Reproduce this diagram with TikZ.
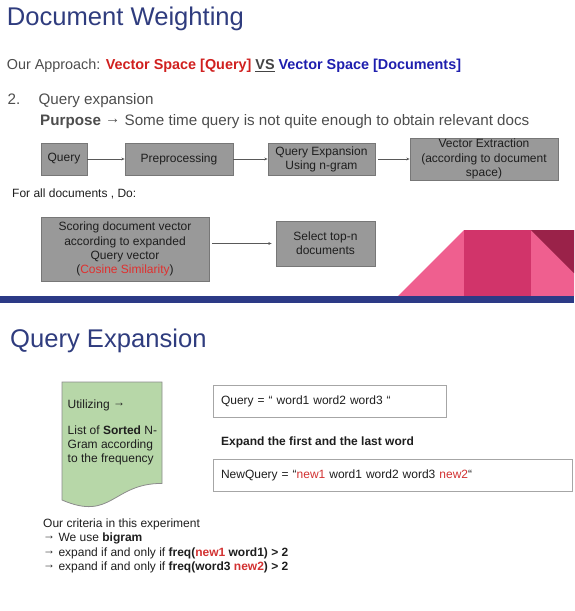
\documentclass[tikz,border=0pt]{standalone}
\usepackage{fontspec}
\setmainfont{Liberation Sans}
\usetikzlibrary{arrows.meta}

\definecolor{titleblue}{HTML}{2F3C7E}
\definecolor{bodygray}{HTML}{4D4D4D}
\definecolor{apred}{HTML}{D0201F}
\definecolor{apblue}{HTML}{1E1EAE}
\definecolor{vsgray}{HTML}{444444}
\definecolor{boxfill}{HTML}{999999}
\definecolor{boxdraw}{HTML}{777777}
\definecolor{arrowgray}{HTML}{595959}
\definecolor{cosred}{HTML}{E0302F}
\definecolor{qred}{HTML}{D23232}
\definecolor{docgreen}{HTML}{B7D7A8}
\definecolor{docdraw}{HTML}{8C8C8C}
\definecolor{pinklight}{HTML}{EF5F8F}
\definecolor{pinkdark}{HTML}{D1346A}
\definecolor{maroon}{HTML}{9A2249}
\definecolor{barblue}{HTML}{2C3A86}
\definecolor{frame}{HTML}{A6A6A6}
\definecolor{inktext}{HTML}{1E1E1E}

% right arrow sitting at mid x-height
\newcommand{\rarr}{\raisebox{0.13em}{→}}

\tikzset{
  bigtitle/.style={anchor=base west, inner sep=0pt, text=titleblue,
    font=\fontsize{25.6}{30}\selectfont},
  slideline/.style={anchor=base west, inner sep=0pt, text=bodygray,
    font=\fontsize{15.2}{18}\selectfont},
  smallline/.style={anchor=base west, inner sep=0pt, text=inktext,
    font=\fontsize{12}{14}\selectfont},
  flowbox/.style={draw=boxdraw, fill=boxfill, line width=0.8pt, inner sep=0pt,
    align=center, text=inktext, font=\fontsize{12}{14.2}\selectfont},
  linkarrow/.style={draw=arrowgray, line width=0.6pt,
    -{Stealth[length=3.2pt,width=2.8pt]}},
  framebox/.style={draw=frame, fill=white, line width=0.9pt, inner xsep=8pt,
    inner ysep=0pt, align=left, minimum height=32pt, text=inktext,
    font=\fontsize{12}{14}\selectfont},
}

\begin{document}
\begin{tikzpicture}[x=1pt,y=-1pt]
\useasboundingbox (0,0) rectangle (574,611);

% ---------- upper slide ----------
\node[bigtitle] (title1) at (6.6,25.7) {Document Weighting};

\node[slideline, font=\fontsize{14.4}{17}\selectfont] (approach) at (6.6,69.5)
  {Our Approach: \textbf{\textcolor{apred}{Vector Space [Query]}
   \textcolor{vsgray}{\underline{VS}}
   \textcolor{apblue}{Vector Space [Documents]}}};

\node[slideline] (num) at (7.5,104.5) {2.};
\node[slideline] (qexp) at (38.4,104.5) {Query expansion};
\node[slideline] (purpose) at (40,125)
  {\textbf{Purpose} \rarr\ Some time query is not quite enough to obtain relevant docs};

% pipeline
\node[flowbox, minimum width=46pt, minimum height=32pt] (q) at (64,159) {Query};
\node[flowbox, minimum width=108pt, minimum height=32pt] (prep) at (179,159) {Preprocessing};
\node[flowbox, minimum width=107pt, minimum height=32pt] (qe) at (321.5,159)
  {Query Expansion\\Using n-gram};
\node[flowbox, minimum width=148pt, minimum height=42pt] (ve) at (484,159)
  {Vector Extraction\\(according to document\\space)};

\draw[linkarrow] (q.east) -- (prep.west);
\draw[linkarrow] (prep.east) -- (qe.west);
\draw[linkarrow, shorten <=3pt] (qe.east) -- (qe.east -| ve.west);

\node[smallline] (forall) at (12,197) {For all documents , Do:};

\node[flowbox, minimum width=168pt, minimum height=64pt] (score) at (125,249)
  {Scoring document vector\\according to expanded\\Query vector\\(\textcolor{cosred}{Cosine Similarity})};
\node[flowbox, minimum width=99pt, minimum height=45pt] (select) at (325.5,243.5)
  {Select top-n\\documents};
\draw[linkarrow, shorten <=3pt, shorten >=4pt] (score.east |- select) -- (select.west);

% corner ornament
\fill[pinklight] (398,296) -- (464,230) -- (574,230) -- (574,296) -- cycle;
\fill[pinkdark] (464,230) rectangle (531,296);
\fill[maroon] (531,230) -- (574,230) -- (574,273) -- cycle;

% divider
\fill[barblue] (0,296) rectangle (574,303);

% ---------- lower slide ----------
\node[bigtitle] (title2) at (10,347) {Query Expansion};

% n-gram list (document shape)
\draw[fill=docgreen, draw=docdraw, line width=0.8pt]
  (62,382) -- (162,382) -- (162,483.4)
  .. controls (112,483.4) and (112,521.6) .. (62,500) -- cycle;
\node[smallline] (util) at (67.5,408) {Utilizing \rarr};
\node[smallline] (list1) at (67.5,434) {List of \textbf{Sorted} N-};
\node[smallline] (list2) at (67.5,448) {Gram according};
\node[smallline] (list3) at (67.5,462) {to the frequency};

\node[framebox, text width=217pt] (query) at (329.5,401)
  {Query = “ word1 word2 word3 “};
\node[smallline] (expand) at (221,445) {\textbf{Expand the first and the last word}};
\node[framebox, text width=343pt] (newquery) at (392.5,475)
  {NewQuery = “\textcolor{qred}{new1} word1 word2 word3 \textcolor{qred}{new2}“};

% criteria
\node[smallline] (crit0) at (43,527) {Our criteria in this experiment};
\node[smallline] (crit1) at (43,541.5) {\rarr\ We use \textbf{bigram}};
\node[smallline] (crit2) at (43,556)
  {\rarr\ expand if and only if \textbf{freq(\textcolor{qred}{new1} word1) > 2}};
\node[smallline] (crit3) at (43,570.5)
  {\rarr\ expand if and only if \textbf{freq(word3 \textcolor{qred}{new2}) > 2}};
\end{tikzpicture}
\end{document}
